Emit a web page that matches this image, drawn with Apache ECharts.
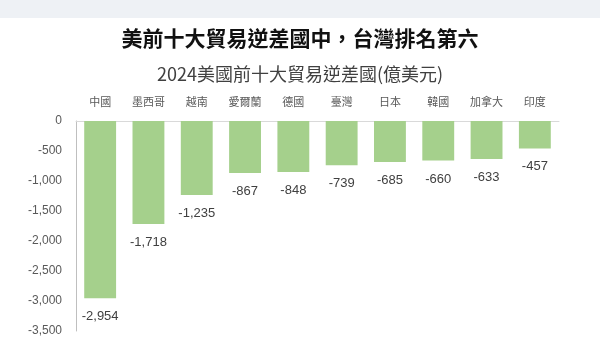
<!DOCTYPE html>
<html>
<head>
<meta charset="utf-8">
<script src="https://cdn.jsdelivr.net/npm/echarts@6/dist/echarts.min.js"></script>
<style>
html,body{margin:0;padding:0;background:#fff;}
#chart{width:600px;height:357px;}
</style>
</head>
<body>
<div id="chart"></div>
<script>
const titleText = '美前十大貿易逆差國中，台灣排名第六';
const subtitleText = '2024美國前十大貿易逆差國(億美元)';
const categories = ['中國','墨西哥','越南','愛爾蘭','德國','臺灣','日本','韓國','加拿大','印度'];
const values = [-2954,-1718,-1235,-867,-848,-739,-685,-660,-633,-457];
const yMin = -3500, yMax = 0, yStep = 500;

const fmt = v => (v < 0 ? '-' : '') + Math.abs(v).toLocaleString('en-US');
const chart = echarts.init(document.getElementById('chart'));
chart.setOption({
  backgroundColor: '#ffffff',
  animation: false,
  graphic: [
    {type:'rect', left:0, top:0, shape:{width:600, height:18}, style:{fill:'#eef1f5'}}
  ],
  title: [
    {text: titleText, left:'center', top:23,
     textStyle:{fontFamily:'Noto Sans CJK TC', fontSize:21, fontWeight:'bold', color:'#111'}},
    {text: subtitleText, left:'center', top:60,
     textStyle:{fontFamily:'Noto Sans CJK TC', fontSize:18, fontWeight:'normal', color:'#404040'}}
  ],
  grid: {left:76, right:41, top:121, bottom:26},
  xAxis: {
    type:'category', position:'top', data: categories,
    axisLine:{show:true, lineStyle:{color:'#d9d9d9', width:1}},
    axisTick:{show:false},
    axisLabel:{margin:14, color:'#595959', fontSize:11, fontFamily:'Noto Sans CJK TC'}
  },
  yAxis: {
    type:'value', min:yMin, max:yMax, interval:yStep,
    axisLine:{show:true, lineStyle:{color:'#bfbfbf', width:1}},
    axisTick:{show:false},
    splitLine:{show:false},
    axisLabel:{margin:14, color:'#595959', fontSize:12, fontFamily:'Liberation Sans', formatter: fmt}
  },
  series: [{
    type:'bar', data: values, barWidth:'66%',
    itemStyle:{color:'#a5d08c'},
    label:{show:true, position:'bottom', distance:12, color:'#404040', fontSize:13,
           fontFamily:'Liberation Sans', formatter: p => fmt(p.value)}
  }]
});
</script>
</body>
</html>
